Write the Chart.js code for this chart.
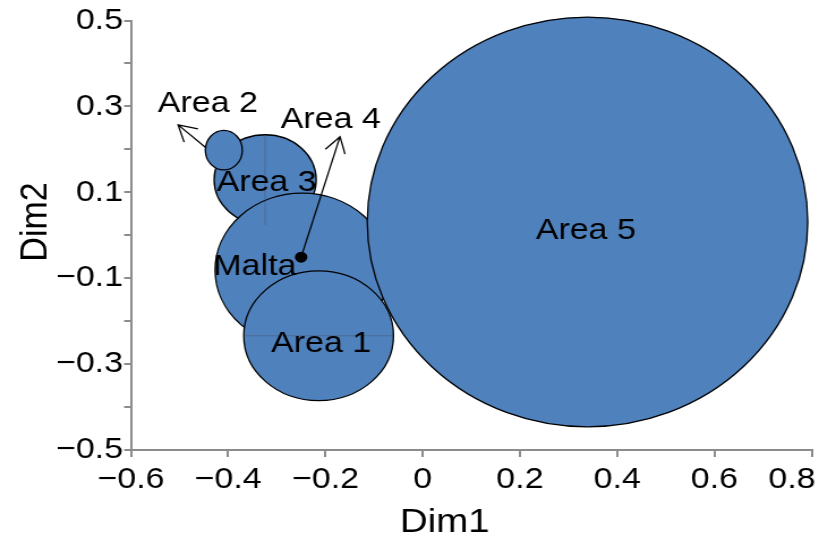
<!DOCTYPE html>
<html>
<head>
<meta charset="utf-8">
<script src="https://cdn.jsdelivr.net/npm/chart.js@4.4.1/dist/chart.umd.min.js"></script>
<style>
  html, body { margin: 0; padding: 0; background: #fff; overflow: hidden; }
  /* the plot is laid out on a 723px canvas and widened to the page width */
  #wrap { width: 723px; height: 538px; transform: scaleX(1.13278); transform-origin: 0 0; }
</style>
</head>
<body>
<div id="wrap"><canvas id="c" width="723" height="538"></canvas></div>
<script>
// Areas, in drawing order (later ones cover earlier ones)
const areaNames      = ['Area 3', 'Area 2', 'Area 4', 'Area 1', 'Area 5'];
const areaDim1       = [-0.324, -0.409, -0.248, -0.214, 0.339];
const areaDim2       = [ 0.129,  0.198, -0.081, -0.234, 0.031];
const areaRadiusDim1 = [ 0.105,  0.038,  0.179,  0.154, 0.453];
const areaRadiusDim2 = [ 0.105,  0.046,  0.179,  0.151, 0.477];

// Country position
const pointNames = ['Malta'];
const pointDim1  = [-0.250];
const pointDim2  = [-0.051];

// Labelled ticks
const dim1Ticks = [-0.6, -0.4, -0.2, 0, 0.2, 0.4, 0.6, 0.8];
const dim2Ticks = [-0.5, -0.3, -0.1, 0.1, 0.3, 0.5];

// Text annotations (anchor = centre of the capitals, in axis units)
const notes = [
  { text: 'Area 2', x: -0.442, y:  0.312 },
  { text: 'Area 4', x: -0.189, y:  0.275 },
  { text: 'Area 3', x: -0.321, y:  0.129 },
  { text: 'Malta',  x: -0.345, y: -0.067 },
  { text: 'Area 1', x: -0.209, y: -0.246 },
  { text: 'Area 5', x:  0.3355, y: 0.016 }
];
// Arrows pointing from a mark to its label
const arrows = [
  { from: [-0.447, 0.205], to: [-0.503, 0.257] },
  { from: [-0.250, -0.051], to: [-0.170, 0.2295] }
];
// Thin guide lines through some areas ('v' vertical, 'h' horizontal)
const guides = [ { area: 'Area 3', dir: 'v' }, { area: 'Area 1', dir: 'h' } ];

const FONT = '"Liberation Sans", Arial, sans-serif';
const TICK_SIZE = 30;
const fmt = v => {
  const r = Math.round(v * 10) / 10;
  if (r === 0) return '0';
  return (r < 0 ? '\u2212' : '') + Math.abs(r).toFixed(1);
};
const inList = (list, v) => list.some(t => Math.abs(t - v) < 1e-6);

const areaPlugin = {
  id: 'areas',
  beforeDatasetsDraw(chart) {
    const { ctx, scales: { x, y } } = chart;
    ctx.save();
    areaNames.forEach((name, i) => {
      const cx = x.getPixelForValue(areaDim1[i]);
      const cy = y.getPixelForValue(areaDim2[i]);
      const rx = Math.abs(x.getPixelForValue(areaDim1[i] + areaRadiusDim1[i]) - cx);
      const ry = Math.abs(y.getPixelForValue(areaDim2[i] + areaRadiusDim2[i]) - cy);
      ctx.beginPath();
      ctx.ellipse(cx, cy, rx, ry, 0, 0, Math.PI * 2);
      ctx.fillStyle = '#4f81bd';
      ctx.fill();
      ctx.lineWidth = 1.3;
      ctx.strokeStyle = '#000';
      ctx.stroke();
    });
    guides.forEach(g => {
      const i = areaNames.indexOf(g.area);
      ctx.beginPath();
      if (g.dir === 'v') {
        const px = x.getPixelForValue(areaDim1[i]);
        ctx.moveTo(px, y.getPixelForValue(areaDim2[i] + areaRadiusDim2[i]));
        ctx.lineTo(px, y.getPixelForValue(areaDim2[i] - areaRadiusDim2[i]));
      } else {
        const py = y.getPixelForValue(areaDim2[i]);
        ctx.moveTo(x.getPixelForValue(areaDim1[i] - areaRadiusDim1[i]), py);
        ctx.lineTo(x.getPixelForValue(areaDim1[i] + areaRadiusDim1[i]), py);
      }
      ctx.lineWidth = 1;
      ctx.strokeStyle = 'rgba(70,70,70,0.35)';
      ctx.stroke();
    });
    ctx.restore();
  },
  afterDatasetsDraw(chart) {
    const { ctx, scales: { x, y } } = chart;
    ctx.save();
    // arrows with open heads
    arrows.forEach(a => {
      const x0 = x.getPixelForValue(a.from[0]), y0 = y.getPixelForValue(a.from[1]);
      const x1 = x.getPixelForValue(a.to[0]),   y1 = y.getPixelForValue(a.to[1]);
      const ang = Math.atan2(y0 - y1, x0 - x1);
      const head = 18, spread = Math.PI / 6;
      ctx.beginPath();
      ctx.moveTo(x0, y0); ctx.lineTo(x1, y1);
      ctx.moveTo(x1 + head * Math.cos(ang - spread), y1 + head * Math.sin(ang - spread));
      ctx.lineTo(x1, y1);
      ctx.lineTo(x1 + head * Math.cos(ang + spread), y1 + head * Math.sin(ang + spread));
      ctx.lineWidth = 1.3;
      ctx.strokeStyle = '#000';
      ctx.stroke();
    });
    // text labels
    const size = 30;
    ctx.font = size + 'px ' + FONT;
    ctx.fillStyle = '#000';
    ctx.textAlign = 'center';
    ctx.textBaseline = 'alphabetic';
    notes.forEach(n => {
      ctx.fillText(n.text, x.getPixelForValue(n.x), y.getPixelForValue(n.y) + 0.358 * size);
    });
    ctx.restore();
  },
  afterDraw(chart) {
    const { ctx, chartArea, width, scales: { x } } = chart;
    ctx.save();
    ctx.fillStyle = '#000';
    ctx.textBaseline = 'alphabetic';
    // Dim1 tick labels, kept inside the canvas at the right end
    ctx.font = TICK_SIZE + 'px ' + FONT;
    ctx.textAlign = 'left';
    dim1Ticks.forEach(v => {
      const s = fmt(v);
      const w = ctx.measureText(s).width;
      let left = x.getPixelForValue(v) - w / 2;
      left = Math.min(left, width - 3 - w);
      ctx.fillText(s, left, chartArea.bottom + 38);
    });
    // axis titles
    ctx.font = '34px ' + FONT;
    ctx.textAlign = 'center';
    ctx.fillText('Dim1', chartArea.left + 277, 532);
    ctx.translate(41, 222);
    ctx.rotate(-Math.PI / 2);
    ctx.fillText('Dim2', 0, 0);
    ctx.restore();
  }
};

new Chart(document.getElementById('c'), {
  type: 'scatter',
  data: {
    datasets: [{
      label: pointNames[0],
      data: pointDim1.map((v, i) => ({ x: v, y: pointDim2[i] })),
      pointRadius: 5.5,
      pointBackgroundColor: '#000',
      pointBorderColor: '#000',
      pointBorderWidth: 0
    }]
  },
  options: {
    responsive: false,
    animation: false,
    events: [],
    layout: { padding: { left: 0, top: 20.5, right: 6.5, bottom: 0 } },
    plugins: { legend: { display: false }, tooltip: { enabled: false } },
    scales: {
      x: {
        type: 'linear', min: -0.6, max: 0.8,
        ticks: { display: false, stepSize: 0.2, autoSkip: false, maxRotation: 0 },
        grid: { drawOnChartArea: false, drawTicks: true, tickLength: 7, color: '#8c8c8c', lineWidth: 2 },
        border: { display: true, color: '#8c8c8c', width: 2 },
        afterFit(s) { s.height = 88; s.paddingLeft = 0; s.paddingRight = 0; }
      },
      y: {
        type: 'linear', min: -0.5, max: 0.5,
        ticks: {
          stepSize: 0.1, autoSkip: false, padding: 1,
          color: '#000', font: { family: FONT, size: TICK_SIZE },
          callback: v => inList(dim2Ticks, v) ? fmt(v) : ''
        },
        grid: { drawOnChartArea: false, drawTicks: true, tickLength: 6, color: '#8c8c8c', lineWidth: 2 },
        border: { display: true, color: '#8c8c8c', width: 2 },
        afterFit(s) { s.width = 115.6; s.paddingTop = 0; s.paddingBottom = 0; }
      }
    }
  },
  plugins: [areaPlugin]
});
</script>
</body>
</html>
